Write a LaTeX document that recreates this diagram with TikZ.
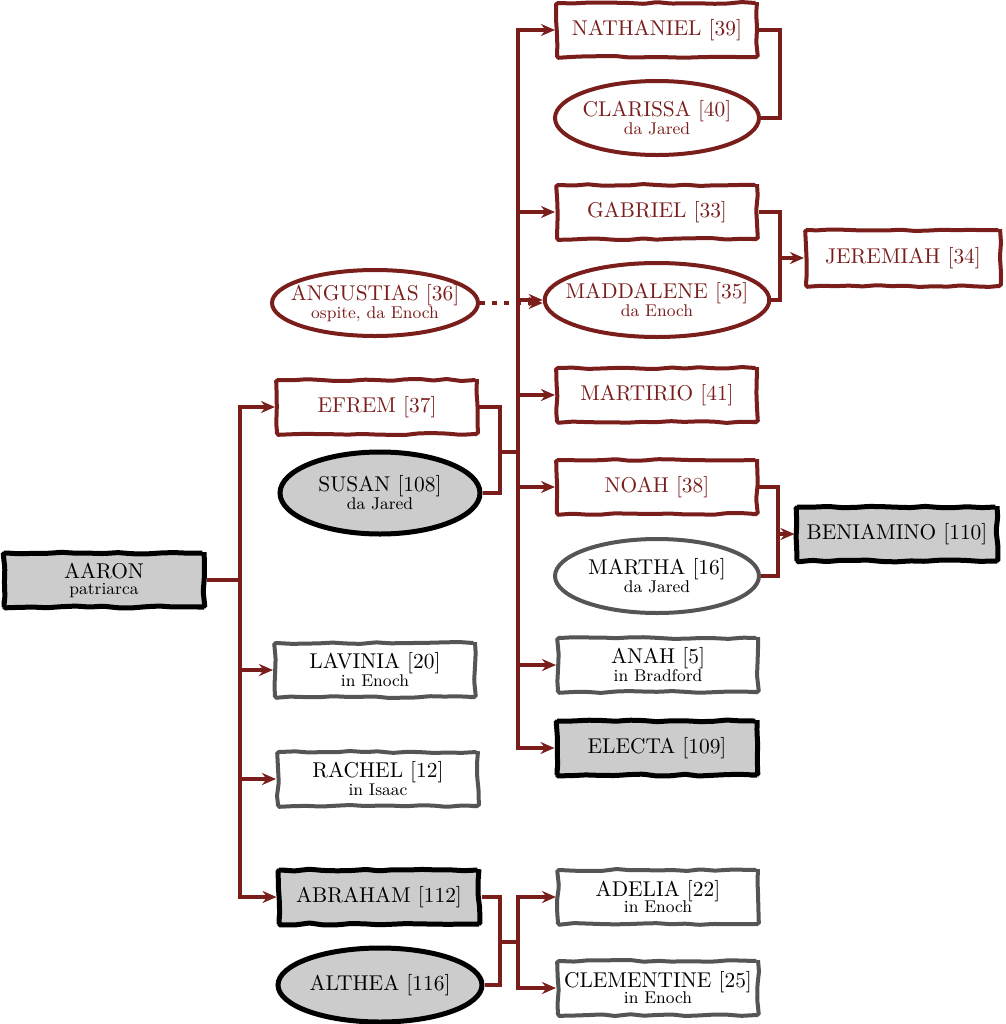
\documentclass[tikz,border=0pt]{standalone}
\usetikzlibrary{shapes.geometric,arrows.meta,decorations.pathmorphing}
\definecolor{bordo}{RGB}{122,30,28}
\definecolor{grigio}{RGB}{85,85,85}
\definecolor{grigiochiaro}{RGB}{204,204,204}
\newcommand{\nota}[1]{{\fontsize{8.5}{9}\selectfont #1}}

\begin{document}
\begin{tikzpicture}[x=0.5pt,y=-0.5pt,
  persona/.style={draw, line width=2pt, align=center, inner sep=0pt,
    font=\fontsize{10.7}{11}\selectfont},
  box/.style={persona, rectangle, minimum width=100pt, minimum height=27pt,
    decorate, decoration={random steps,segment length=7pt,amplitude=0.5pt}, rounded corners=0.8pt},
  oval/.style={persona, ellipse, inner xsep=-6pt, minimum width=102pt, minimum height=37pt},
  famiglia/.style={draw=bordo, text=bordo, fill=white},
  ospite/.style={draw=grigio, text=black, fill=white},
  noto/.style={draw=black, fill=grigiochiaro, line width=2.5pt},
  link/.style={draw=bordo, line width=1.6pt},
  freccia/.style={link, -{Stealth[length=7pt,width=6pt]}}]
\pgfmathsetseed{7}
\useasboundingbox (0,0) rectangle (1006,1024);

% first generation
\node[box,noto] (aaron) at (104,580) {AARON\\[-3pt]\nota{patriarca}};

% children of aaron
\node[box,famiglia] (efrem) at (377,407) {EFREM [37]};
\node[oval,noto,minimum width=100pt,minimum height=41pt] (susan) at (380,493) {SUSAN [108]\\[-2pt]\nota{da Jared}};
\node[oval,famiglia,minimum width=103pt,minimum height=33pt] (angustias) at (375,303) {ANGUSTIAS [36]\\[-2pt]\nota{ospite, da Enoch}};
\node[box,ospite] (lavinia) at (375,670) {LAVINIA [20]\\[-2pt]\nota{in Enoch}};
\node[box,ospite] (rachel) at (378,779) {RACHEL [12]\\[-2pt]\nota{in Isaac}};
\node[box,noto] (abraham) at (379,897) {ABRAHAM [112]};
\node[oval,noto] (althea) at (380,985) {ALTHEA [116]};

% grandchildren
\node[box,famiglia] (nathaniel) at (657,30) {NATHANIEL [39]};
\node[oval,famiglia] (clarissa) at (657,118) {CLARISSA [40]\\[-2pt]\nota{da Jared}};
\node[box,famiglia] (gabriel) at (657,212) {GABRIEL [33]};
\node[oval,famiglia] (maddalene) at (657,300) {MADDALENE [35]\\[-2pt]\nota{da Enoch}};
\node[box,famiglia] (martirio) at (657,395) {MARTIRIO [41]};
\node[box,famiglia] (noah) at (657,487) {NOAH [38]};
\node[oval,ospite] (martha) at (657,576) {MARTHA [16]\\[-2pt]\nota{da Jared}};
\node[box,ospite] (anah) at (658,665) {ANAH [5]\\[-2pt]\nota{in Bradford}};
\node[box,noto] (electa) at (657,748) {ELECTA [109]};
\node[box,ospite] (adelia) at (658,897) {ADELIA [22]\\[-3pt]\nota{in Enoch}};
\node[box,ospite] (clementine) at (658,988) {CLEMENTINE [25]\\[-3pt]\nota{in Enoch}};

% great-grandchildren
\node[box,famiglia,minimum width=97pt,minimum height=28pt] (jeremiah) at (903,258) {JEREMIAH [34]};
\node[box,noto] (beniamino) at (897,534) {BENIAMINO [110]};

% aaron to children
\coordinate (aaronbus) at (240,580);
\draw[link] (aaron.east) -- (aaronbus);
\foreach \figlio in {efrem,lavinia,rachel,abraham}
  \draw[freccia] (aaronbus) |- (\figlio.west);

% efrem and susan
\coordinate (efremjoin) at (500,452);
\coordinate (efrembus) at (518,452);
\draw[link] (efrem.east) -| (efremjoin) |- (susan.east);
\draw[link] (efremjoin) -- (efrembus);
\foreach \figlio in {nathaniel,gabriel,maddalene,martirio,noah,anah,electa}
  \draw[freccia] (efrembus) |- (\figlio.west);

% nathaniel and clarissa
\coordinate (natjoin) at (780,74);
\draw[link] (nathaniel.east) -| (natjoin) |- (clarissa.east);

% gabriel and maddalene
\coordinate (gabjoin) at (780,258);
\draw[link] (gabriel.east) -| (gabjoin) |- (maddalene.east);
\draw[freccia] (gabjoin) -- (jeremiah.west);

% noah and martha
\coordinate (noahjoin) at (778,534);
\draw[link] (noah.east) -| (noahjoin) |- (martha.east);
\draw[freccia] (noahjoin) -- (beniamino.west);

% abraham and althea
\coordinate (abrjoin) at (500,942);
\coordinate (abrbus) at (518,942);
\draw[link] (abraham.east) -| (abrjoin) |- (althea.east);
\draw[link] (abrjoin) -- (abrbus);
\foreach \figlio in {adelia,clementine}
  \draw[freccia] (abrbus) |- (\figlio.west);

% guest
\draw[freccia, line width=2pt, dash pattern=on 2.5pt off 3.5pt] (angustias.east) -- (maddalene.west |- angustias.east);
\end{tikzpicture}
\end{document}
